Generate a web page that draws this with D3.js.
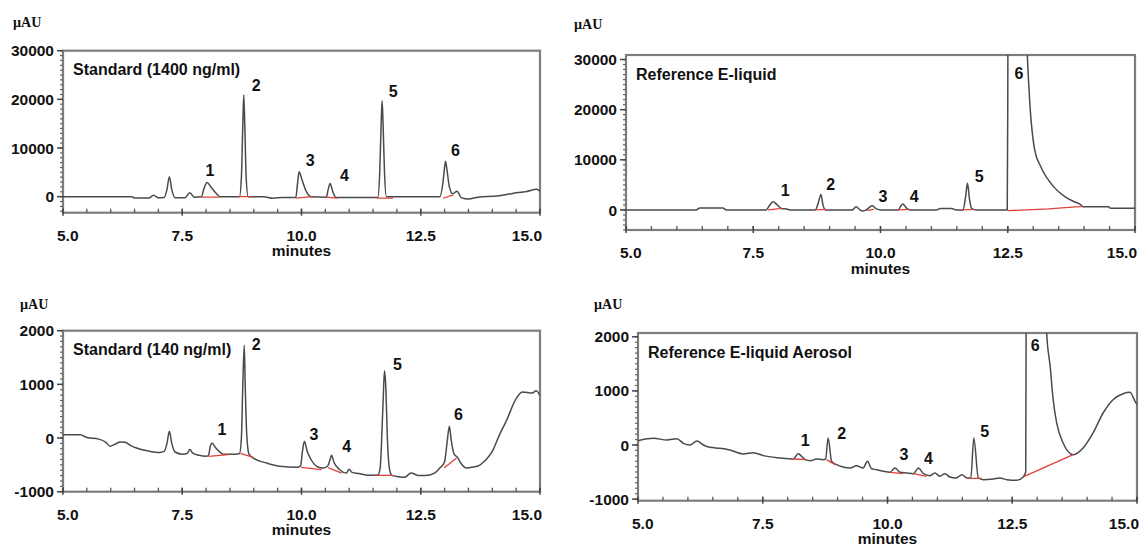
<!DOCTYPE html>
<html lang="en">
<head>
    <meta charset="UTF-8">
    <title>Chromatograms</title>
    <script src="https://d3js.org/d3.v7.min.js"></script>
    <style>
        body { margin: 0; background: #fff; }
        svg { display: block; }
        text { font-family: "Liberation Sans", Arial, sans-serif; font-weight: bold; fill: #111; }
        .unit { font-family: "Liberation Serif", "Times New Roman", serif; font-size: 14px; }
    </style>
</head>
<body>
<svg id="chart" width="1144" height="547"></svg>
<script>
// time (min), signal (µAU)
const std1400Trace = [
    [5.0, 0], [6.45, 0], [6.5, -300], [6.8, -300], [6.9, 300], [7.0, -250], [7.12, -200], [7.18, 1500],
    [7.23, 4100], [7.28, 1500], [7.35, -250], [7.55, -250], [7.66, 800], [7.75, -100], [7.9, 0],
    [7.96, 1800], [8.02, 2900], [8.1, 2000], [8.2, 800], [8.3, 0], [8.7, 0], [8.74, 4000], [8.77, 15000],
    [8.79, 20900], [8.81, 15000], [8.84, 4000], [8.88, 0], [9.2, 0], [9.4, -350], [9.6, -150], [9.88, -200],
    [9.92, 3000], [9.95, 5100], [10.0, 3800], [10.08, 1500], [10.2, 0], [10.52, -100], [10.56, 1500],
    [10.6, 2700], [10.65, 1200], [10.72, -200], [11.6, -200], [11.64, 5000], [11.67, 15000], [11.69, 19700],
    [11.71, 15000], [11.74, 5000], [11.78, 0], [12.9, 0], [12.96, 2500], [13.0, 6000], [13.02, 7300],
    [13.05, 5500], [13.1, 2000], [13.17, 600], [13.26, 1100], [13.35, -200], [13.5, -500], [13.7, -100],
    [14.1, 150], [14.45, 700], [14.72, 1050], [14.93, 1500], [15.0, 1100]
];
const refLiquidTrace = [
    [5.0, 0], [6.38, 0], [6.45, 400], [6.9, 400], [6.97, 0], [7.75, 0], [7.82, 900], [7.89, 1650],
    [7.96, 1100], [8.05, 300], [8.15, 200], [8.25, 0], [8.72, 0], [8.78, 1500], [8.83, 3100], [8.87, 1000],
    [8.92, 0], [9.45, 0], [9.52, 650], [9.6, 0], [9.65, -200], [9.72, 0], [9.78, 500], [9.84, 850],
    [9.92, 200], [10.0, 0], [10.35, 0], [10.4, 800], [10.44, 1200], [10.5, 500], [10.58, 0], [11.1, 0],
    [11.18, 300], [11.4, 300], [11.48, 0], [11.62, 0], [11.67, 2500], [11.71, 5300], [11.75, 2000],
    [11.8, 200], [11.88, 0], [12.49, 0], [12.5, 20000], [12.51, 60000], [12.8, 60000], [12.88, 32000],
    [12.93, 21900], [13.03, 11950], [13.15, 8600], [13.4, 4650], [13.62, 2650], [13.83, 1530],
    [13.94, 1000], [13.97, 660], [14.2, 650], [14.48, 650], [14.52, 350], [15.0, 350]
];
const std140Trace = [
    [5.0, 60], [5.36, 60], [5.5, 10], [5.75, -20], [5.9, -80], [5.99, -155], [6.1, -110], [6.2, -75],
    [6.3, -80], [6.42, -140], [6.54, -186], [6.82, -248], [7.03, -270], [7.12, -250], [7.18, -100],
    [7.23, 125], [7.28, -100], [7.35, -260], [7.5, -300], [7.6, -290], [7.66, -215], [7.72, -280],
    [7.85, -320], [8.0, -340], [8.05, -320], [8.09, -150], [8.12, -93], [8.2, -180], [8.3, -270],
    [8.36, -300], [8.6, -300], [8.7, -290], [8.74, 0], [8.77, 1000], [8.8, 1730], [8.82, 1000],
    [8.85, 100], [8.9, -300], [9.0, -380], [9.27, -466], [9.55, -527], [9.9, -546], [9.98, -520],
    [10.02, -250], [10.06, -61], [10.12, -250], [10.2, -400], [10.32, -527], [10.45, -560], [10.55, -520],
    [10.6, -400], [10.63, -322], [10.68, -450], [10.8, -590], [10.94, -652], [11.0, -580], [11.06, -640],
    [11.2, -660], [11.4, -695], [11.6, -690], [11.65, -550], [11.69, 200], [11.72, 900], [11.74, 1255],
    [11.77, 900], [11.8, 0], [11.85, -600], [11.9, -700], [12.0, -715], [12.16, -732], [12.3, -650],
    [12.45, -700], [12.6, -700], [12.78, -660], [12.9, -560], [13.0, -440], [13.05, -100], [13.1, 218],
    [13.14, -50], [13.2, -300], [13.27, -360], [13.35, -480], [13.46, -560], [13.6, -540], [13.72, -515],
    [13.85, -420], [14.0, -250], [14.15, 60], [14.3, 330], [14.49, 720], [14.63, 860], [14.84, 840],
    [14.92, 880], [15.0, 790]
];
const aerosolTrace = [
    [5.0, 80], [5.31, 124], [5.58, 92], [5.78, 117], [5.91, 31], [6.04, 0], [6.18, 74], [6.31, 0],
    [6.44, -43], [6.64, -61], [6.84, -92], [7.11, -166], [7.31, -142], [7.51, -197], [7.85, -240],
    [8.11, -259], [8.21, -160], [8.35, -271], [8.45, -290], [8.58, -259], [8.71, -271], [8.76, -259],
    [8.81, 129], [8.88, -302], [8.98, -364], [9.11, -407], [9.25, -425], [9.38, -382], [9.51, -425],
    [9.6, -302], [9.68, -440], [9.78, -456], [9.92, -487], [10.05, -505], [10.15, -425], [10.25, -505],
    [10.38, -517], [10.52, -530], [10.62, -425], [10.72, -530], [10.85, -567], [10.95, -517], [11.05, -579],
    [11.15, -530], [11.25, -591], [11.38, -610], [11.49, -548], [11.59, -610], [11.67, -610], [11.73, 129],
    [11.82, -610], [11.92, -641], [12.12, -628], [12.25, -610], [12.39, -641], [12.59, -653], [12.72, -591],
    [12.77, -500], [12.78, 3000], [12.79, 9000], [13.1, 9000], [13.16, 3000], [13.19, 2070], [13.26, 1454],
    [13.32, 837], [13.39, 407], [13.52, 37], [13.72, -179], [13.92, -55], [14.12, 222], [14.32, 591],
    [14.52, 837], [14.72, 948], [14.86, 974], [14.96, 807], [15.0, 750]
];

// integration baselines (red), one segment per peak
const std1400Base = [
    [[7.9, -100], [8.28, -100]], [[8.68, 0], [8.96, 0]], [[9.88, -300], [10.23, 0]],
    [[10.51, -100], [10.75, -300]], [[11.58, -300], [11.92, -300]], [[12.97, -330], [13.18, 350]]
];
const refLiquidBase = [
    [[7.79, 0], [8.07, 300]], [[8.71, 0], [8.94, 100]], [[9.74, -100], [9.87, 100]],
    [[10.34, 0], [10.56, 100]], [[11.6, 0], [11.82, 100]], [[12.5, -150], [13.3, 200], [13.97, 700]]
];
const std140Base = [
    [[8.05, -341], [8.47, -310]], [[8.72, -285], [8.99, -360]], [[9.99, -546], [10.42, -590]],
    [[10.56, -550], [10.84, -652]], [[11.54, -695], [11.93, -695]], [[12.99, -559], [13.25, -373]]
];
const aerosolBase = [
    [[8.11, -259], [8.38, -271]], [[8.78, -271], [8.95, -364]], [[10.05, -505], [10.31, -530]],
    [[10.52, -530], [10.78, -579]], [[11.62, -616], [11.89, -616]], [[12.72, -591], [13.72, -179]]
];

// peak number labels: [label, time, signal]
const std1400Peaks = [["1", 8.08, 5340], ["2", 9.05, 22950], ["3", 10.18, 7540], ["4", 10.9, 4460], ["5", 11.92, 21580], ["6", 13.23, 9600]];
const refLiquidPeaks = [["1", 8.13, 3840], ["2", 9.02, 5180], ["3", 10.05, 2650], ["4", 10.66, 2650], ["5", 11.94, 6630], ["6", 12.72, 27350]];
const std140Peaks = [["1", 8.33, 156], ["2", 9.05, 1751], ["3", 10.26, 63], ["4", 10.95, -155], ["5", 12.01, 1367], ["6", 13.29, 436]];
const aerosolPeaks = [["1", 8.35, 92], ["2", 9.08, 222], ["3", 10.33, -179], ["4", 10.82, -240], ["5", 11.95, 259], ["6", 12.96, 1835]];

const titles = ["Standard (1400 ng/ml)", "Reference E-liquid", "Standard (140 ng/ml)", "Reference E-liquid Aerosol"];
const xTicks = [5.0, 7.5, 10.0, 12.5, 15.0];
const yTicksHigh = [0, 10000, 20000, 30000];
const yTicksLow = [-1000, 0, 1000, 2000];

const panels = [
    { trace: std1400Trace, base: std1400Base, peaks: std1400Peaks, title: titles[0], yTicks: yTicksHigh, yStep: 1000,
      yDomain: [-3300, 30000], xRange: [63, 540], yRange: [212.7, 50.7], unitPos: [13, 27] },
    { trace: refLiquidTrace, base: refLiquidBase, peaks: refLiquidPeaks, title: titles[1], yTicks: yTicksHigh, yStep: 1000,
      yDomain: [-4000, 30900], xRange: [626, 1135], yRange: [230, 55], unitPos: [574, 29] },
    { trace: std140Trace, base: std140Base, peaks: std140Peaks, title: titles[2], yTicks: yTicksLow, yStep: 100,
      yDomain: [-1000, 2000], xRange: [63, 540], yRange: [491.7, 330.7], unitPos: [20, 309] },
    { trace: aerosolTrace, base: aerosolBase, peaks: aerosolPeaks, title: titles[3], yTicks: yTicksLow, yStep: 100,
      yDomain: [-1030, 2070], xRange: [638, 1137], yRange: [500.7, 333], unitPos: [594, 309] }
];

const svg = d3.select("#chart");

function drawPanel(p, i) {
    const x = d3.scaleLinear().domain([5, 15]).range(p.xRange);
    const y = d3.scaleLinear().domain(p.yDomain).range(p.yRange);
    const [x0, x1] = p.xRange;
    const [yb, yt] = p.yRange;
    const g = svg.append("g");

    svg.append("clipPath").attr("id", "clip" + i)
        .append("rect").attr("x", x0).attr("y", yt).attr("width", x1 - x0).attr("height", yb - yt);

    // frame
    g.append("rect")
        .attr("x", x0).attr("y", yt).attr("width", x1 - x0).attr("height", yb - yt)
        .attr("fill", "none").attr("stroke", "#7d7d7d").attr("stroke-width", 2.2);

    // y ticks
    const yMinor = d3.range(Math.ceil(p.yDomain[0] / p.yStep) * p.yStep, p.yDomain[1] + 1, p.yStep);
    g.selectAll(".ymin").data(yMinor).join("line")
        .attr("x1", x0 - 3).attr("x2", x0).attr("y1", d => y(d)).attr("y2", d => y(d))
        .attr("stroke", "#666").attr("stroke-width", 1.2);
    g.selectAll(".ymaj").data(p.yTicks).join("line")
        .attr("x1", x0 - 6).attr("x2", x0).attr("y1", d => y(d)).attr("y2", d => y(d))
        .attr("stroke", "#444").attr("stroke-width", 1.5);
    g.selectAll(".ylab").data(p.yTicks).join("text")
        .attr("x", x0 - 9).attr("y", d => y(d)).attr("dy", "0.36em")
        .attr("text-anchor", "end").style("font-size", "15.5px")
        .text(d => d);

    // x ticks
    g.selectAll(".xmin").data(d3.range(5, 15.01, 0.5)).join("line")
        .attr("x1", d => x(d)).attr("x2", d => x(d)).attr("y1", yb - 4).attr("y2", yb)
        .attr("stroke", "#555").attr("stroke-width", 1.3);
    g.selectAll(".xmaj").data(xTicks).join("line")
        .attr("x1", d => x(d)).attr("x2", d => x(d)).attr("y1", yb - 4).attr("y2", yb + 3)
        .attr("stroke", "#444").attr("stroke-width", 1.5);
    // end labels sit inside the axis span, as in the original plots
    const last = xTicks.length - 1;
    g.selectAll(".xlab").data(xTicks).join("text")
        .attr("x", (d, j) => j === 0 ? x(d) - 6 : j === last ? x(d) + 2 : x(d))
        .attr("y", yb + 22.5).attr("dy", "0.36em")
        .attr("text-anchor", (d, j) => j === 0 ? "start" : j === last ? "end" : "middle")
        .style("font-size", "15.5px")
        .text(d3.format(".1f"));

    g.append("text")
        .attr("x", (x0 + x1) / 2).attr("y", yb + 38).attr("dy", "0.36em")
        .attr("text-anchor", "middle").style("font-size", "15.5px")
        .text("minutes");

    g.append("text").attr("class", "unit")
        .attr("x", p.unitPos[0]).attr("y", p.unitPos[1])
        .text("µAU");

    g.append("text")
        .attr("x", x0 + 10).attr("y", yt + 19).attr("dy", "0.36em")
        .style("font-size", "16px")
        .text(p.title);

    const plot = g.append("g").attr("clip-path", `url(#clip${i})`);

    const line = d3.line().x(d => x(d[0])).y(d => y(d[1])).curve(d3.curveMonotoneX);

    plot.append("path").datum(p.trace)
        .attr("d", line)
        .attr("fill", "none").attr("stroke", "#4a4a4a").attr("stroke-width", 1.5)
        .attr("stroke-linejoin", "round");

    plot.selectAll(".base").data(p.base).join("path")
        .attr("d", d3.line().x(d => x(d[0])).y(d => y(d[1])))
        .attr("fill", "none").attr("stroke", "#e2403a").attr("stroke-width", 1.3);

    g.selectAll(".peak").data(p.peaks).join("text")
        .attr("x", d => x(d[1])).attr("y", d => y(d[2])).attr("dy", "0.36em")
        .attr("text-anchor", "middle").style("font-size", "16px")
        .text(d => d[0]);
}

panels.forEach(drawPanel);
</script>
</body>
</html>
